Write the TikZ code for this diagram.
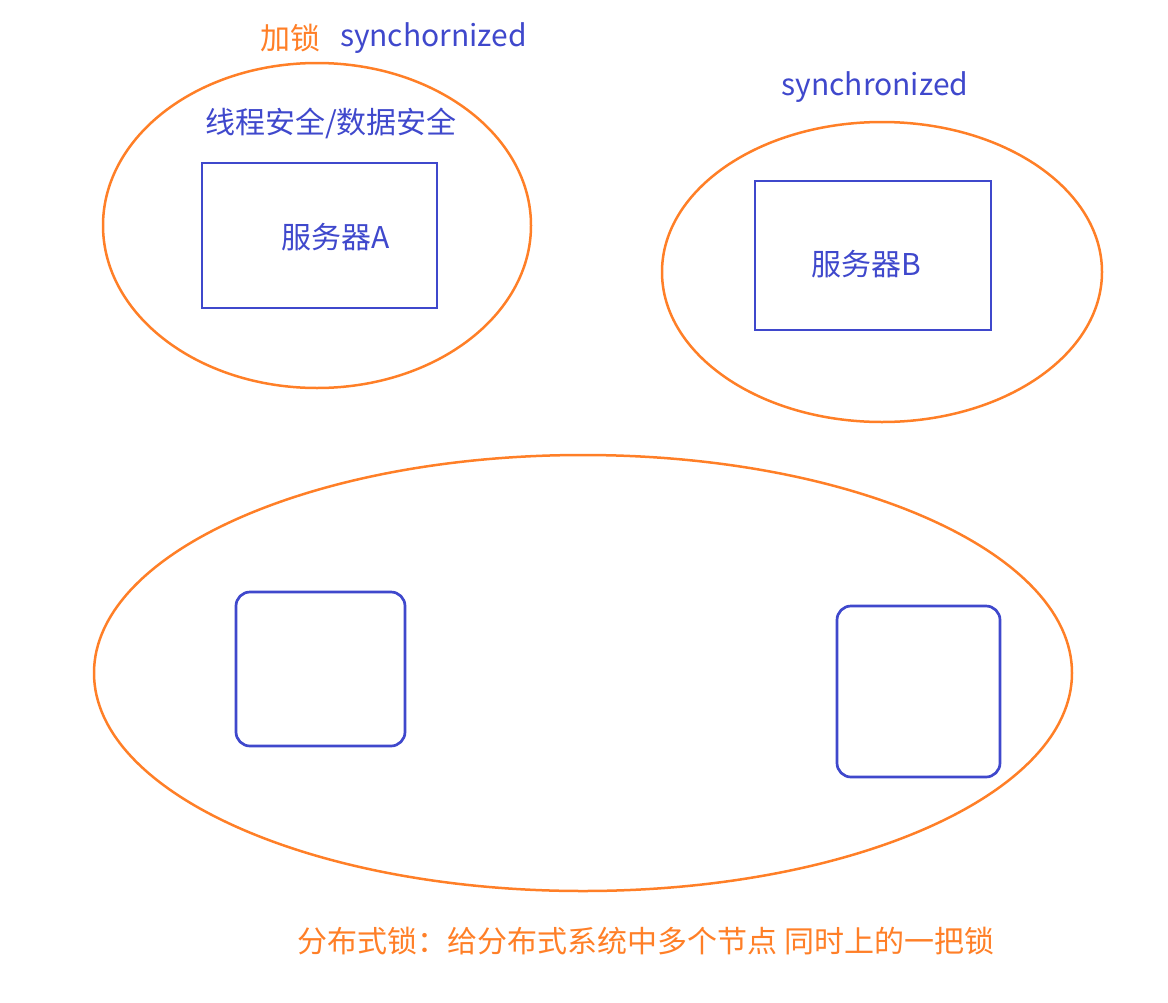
\documentclass[tikz,border=0pt]{standalone}
\usepackage{fontspec}
\setmainfont{Noto Sans CJK SC}
\usepackage{xcolor}
\usepackage{tikz}
\usetikzlibrary{shapes.geometric, positioning}
\definecolor{lockorange}{HTML}{FF7F27}
\definecolor{srvblue}{HTML}{3F48CC}

\begin{document}
\begin{tikzpicture}[x=1pt, y=-1pt,
    every node/.style={font=\fontsize{30}{36}\selectfont, inner sep=0pt, outer sep=0pt},
    lockring/.style={draw=lockorange, ellipse, line width=2.5pt},
    server/.style={draw=srvblue, line width=2.7pt},
    member/.style={draw=srvblue, line width=2.7pt, rounded corners=14pt},
    bluetext/.style={text=srvblue},
    orangetext/.style={text=lockorange}]

    \useasboundingbox (0,0) rectangle (1168,1002);

    % single server A
    \node[lockring, minimum width=428pt, minimum height=325pt] (ringA) at (317,225.5) {};
    \node[server, minimum width=235pt, minimum height=145pt] (srvA) at (319.5,235.5) {};
    \node[bluetext] (srvAlabel) at (336,237) {服务器A};
    \node[bluetext] (safety) at (331,123) {线程安全/数据安全};
    \node[orangetext] (lock) at (290,38) {加锁};
    \node[bluetext, right=20pt of lock] (syncA) {synchornized};

    % single server B
    \node[lockring, minimum width=440pt, minimum height=300pt] (ringB) at (882,272) {};
    \node[server, minimum width=236pt, minimum height=149pt] (srvB) at (873,255.5) {};
    \node[bluetext] (srvBlabel) at (866,264) {服务器B};
    \node[bluetext] (syncB) at (875,87) {synchronized};

    % distributed lock
    \node[lockring, minimum width=978pt, minimum height=436pt] (ringD) at (583,673) {};
    \node[member, minimum width=169pt, minimum height=154pt] (nodeL) at (320.5,669) {};
    \node[member, minimum width=163pt, minimum height=171pt] (nodeR) at (918.5,691.5) {};
    \node[orangetext] (dlock) at (646,941) {分布式锁：给分布式系统中多个节点 同时上的一把锁};
\end{tikzpicture}
\end{document}
